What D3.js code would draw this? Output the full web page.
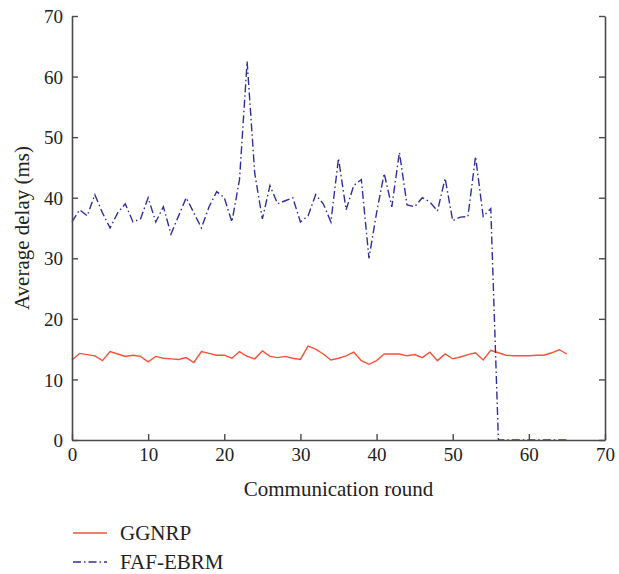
<!DOCTYPE html>
<html>
<head>
<meta charset="utf-8">
<script src="https://cdn.jsdelivr.net/npm/d3@7"></script>
<style>
  body { margin: 0; background: #fff; }
  text { font-family: "Liberation Serif", "DejaVu Serif", serif; fill: #222; }
</style>
</head>
<body>
<div id="wrapper"></div>
<script>
// communication rounds 0..65
const rounds = d3.range(0, 66)

// GGNRP average delay (ms)
const ggnrp = [
  13.2, 14.3, 14.1, 13.9, 13.1, 14.6, 14.2, 13.8, 14.0, 13.8,
  12.9, 13.8, 13.5, 13.4, 13.3, 13.6, 12.8, 14.6, 14.3, 14.0,
  14.0, 13.5, 14.6, 13.8, 13.4, 14.7, 13.8, 13.6, 13.8, 13.5,
  13.3, 15.5, 15.0, 14.2, 13.2, 13.5, 13.9, 14.5, 13.1, 12.5,
  13.1, 14.2, 14.2, 14.2, 13.9, 14.1, 13.6, 14.5, 13.1, 14.2,
  13.4, 13.7, 14.1, 14.4, 13.2, 14.8, 14.4, 14.0, 13.9, 13.9,
  13.9, 14.0, 14.0, 14.4, 14.9, 14.2
]

// FAF-EBRM average delay (ms)
const fafEbrm = [
  36.0, 38.0, 37.0, 40.5, 37.5, 35.0, 37.5, 39.0, 36.0, 36.5,
  40.0, 36.0, 38.5, 34.0, 37.0, 40.0, 37.5, 35.0, 38.5, 41.0,
  40.0, 36.0, 43.0, 62.5, 44.0, 36.5, 42.0, 39.0, 39.5, 40.0,
  36.0, 37.0, 40.5, 39.0, 36.0, 46.5, 38.0, 42.0, 43.0, 30.0,
  37.5, 44.0, 38.5, 47.5, 38.8, 38.5, 40.0, 39.3, 37.8, 43.2,
  36.2, 36.8, 36.9, 46.8, 36.9, 38.2, 0, 0, 0, 0,
  0, 0, 0, 0, 0, 0
]

const xTicks = [0, 10, 20, 30, 40, 50, 60, 70]
const yTicks = [0, 10, 20, 30, 40, 50, 60, 70]

const seriesNames = ['GGNRP', 'FAF-EBRM']
const seriesColors = ['#f4523a', '#2f2f9c']
const seriesDash = [null, '8 3 1.5 3']

const dimensions = {
  width: 619,
  height: 574,
  margin: { top: 16, right: 14, bottom: 134, left: 72 },
}
dimensions.boundedWidth = dimensions.width - dimensions.margin.left - dimensions.margin.right
dimensions.boundedHeight = dimensions.height - dimensions.margin.top - dimensions.margin.bottom

const svg = d3.select('#wrapper')
  .append('svg')
  .attr('width', dimensions.width)
  .attr('height', dimensions.height)

const bounds = svg.append('g')
  .attr('transform', `translate(${dimensions.margin.left},${dimensions.margin.top})`)

const xScale = d3.scaleLinear().domain([0, 70]).range([0, dimensions.boundedWidth])
const yScale = d3.scaleLinear().domain([0, 70]).range([dimensions.boundedHeight, 0])

const axisColor = '#4a4a4a'

// lines
const series = [ggnrp, fafEbrm]
const lineGen = d3.line()
  .x((d, i) => xScale(rounds[i]))
  .y(d => yScale(d))

series.forEach((vals, k) => {
  bounds.append('path')
    .datum(vals)
    .attr('d', lineGen)
    .attr('fill', 'none')
    .attr('stroke', seriesColors[k])
    .attr('stroke-width', 1.4)
    .attr('stroke-dasharray', seriesDash[k])
})

// axes
const xAxis = bounds.append('g')
  .attr('transform', `translate(0,${dimensions.boundedHeight})`)
  .call(d3.axisBottom(xScale).tickValues(xTicks).tickSizeInner(-6).tickSizeOuter(0).tickPadding(8))
const yAxis = bounds.append('g')
  .call(d3.axisLeft(yScale).tickValues(yTicks).tickSizeInner(-6).tickSizeOuter(0).tickPadding(9))
const yAxisRight = bounds.append('g')
  .attr('transform', `translate(${dimensions.boundedWidth},0)`)
  .call(d3.axisRight(yScale).tickValues(yTicks).tickSizeInner(-6).tickSizeOuter(0).tickFormat(''))

;[xAxis, yAxis, yAxisRight].forEach(ax => {
  ax.select('.domain').attr('stroke', axisColor).attr('stroke-width', 1.6)
  ax.selectAll('.tick line').attr('stroke', axisColor).attr('stroke-width', 1.4)
  ax.selectAll('.tick text')
    .style('font-family', '"Liberation Serif", serif')
    .style('font-size', '19px')
    .attr('fill', '#222')
})
yAxis.selectAll('.tick text').attr('dy', '0.35em')

// axis labels
bounds.append('text')
  .attr('x', dimensions.boundedWidth / 2)
  .attr('y', dimensions.boundedHeight + 56)
  .attr('text-anchor', 'middle')
  .style('font-size', '21px')
  .text('Communication round')

bounds.append('text')
  .attr('transform', `translate(${-43},${dimensions.boundedHeight / 2}) rotate(-90)`)
  .attr('text-anchor', 'middle')
  .style('font-size', '21px')
  .text('Average delay (ms)')

// legend
const legend = svg.append('g')
  .attr('transform', `translate(${dimensions.margin.left},533)`)
seriesNames.forEach((name, k) => {
  const row = legend.append('g').attr('transform', `translate(0,${k * 29})`)
  row.append('line')
    .attr('x1', 1).attr('x2', 35)
    .attr('stroke', seriesColors[k])
    .attr('stroke-width', 1.4)
    .attr('stroke-dasharray', seriesDash[k])
  row.append('text')
    .attr('x', 48)
    .attr('dy', '0.35em')
    .style('font-size', '21px')
    .text(name)
})
</script>
</body>
</html>
